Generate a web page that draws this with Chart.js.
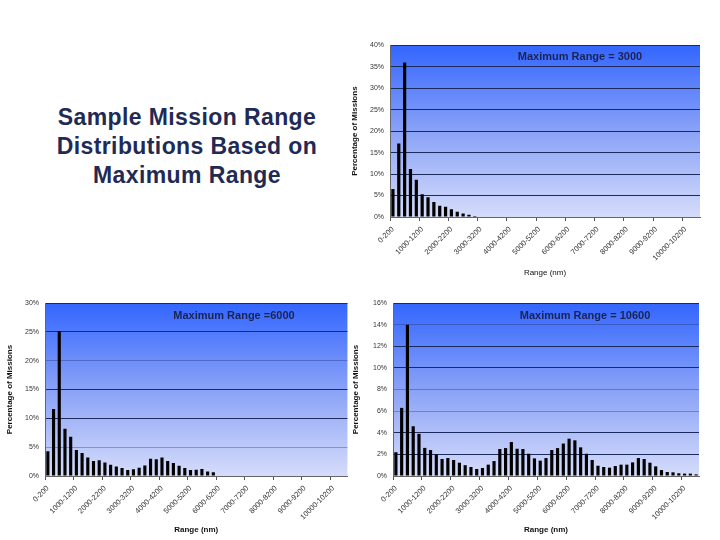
<!DOCTYPE html>
<html>
<head>
<meta charset="utf-8">
<script src="https://cdn.jsdelivr.net/npm/chart.js@4/dist/chart.umd.min.js"></script>
<style>
  html, body { margin: 0; padding: 0; background: #ffffff; }
  #page { position: relative; width: 720px; height: 540px; overflow: hidden; font-family: "Liberation Sans", Arial, sans-serif; }
  .wrap { position: absolute; }
  .note { position: absolute; font-weight: bold; font-size: 11px; color: #1b2350; white-space: nowrap; transform: translate(-50%, -50%); }
  #title { position: absolute; left: 37px; top: 103px; width: 300px; text-align: center; font-weight: bold; font-size: 23px; line-height: 29px; letter-spacing: 0.4px; color: #1f2a55; }
</style>
</head>
<body>
<div id="page">
  <div id="title">Sample Mission Range Distributions Based on Maximum Range</div>
  <div class="wrap" style="left:345px;top:35px;width:365px;height:245px;"><canvas id="c1" width="365" height="245"></canvas></div>
  <div class="wrap" style="left:0px;top:290px;width:355px;height:250px;"><canvas id="c2" width="355" height="250"></canvas></div>
  <div class="wrap" style="left:350px;top:290px;width:370px;height:250px;"><canvas id="c3" width="370" height="250"></canvas></div>
  <div class="note" style="left:580px;top:56px;">Maximum Range = 3000</div>
  <div class="note" style="left:234px;top:315px;">Maximum Range =6000</div>
  <div class="note" style="left:585px;top:315px;">Maximum Range = 10600</div>
</div>
<script>
const categories = ["0-200","200-400","400-600","600-800","800-1000","1000-1200","1200-1400","1400-1600","1600-1800","1800-2000",
  "2000-2200","2200-2400","2400-2600","2600-2800","2800-3000","3000-3200","3200-3400","3400-3600","3600-3800","3800-4000",
  "4000-4200","4200-4400","4400-4600","4600-4800","4800-5000","5000-5200","5200-5400","5400-5600","5600-5800","5800-6000",
  "6000-6200","6200-6400","6400-6600","6600-6800","6800-7000","7000-7200","7200-7400","7400-7600","7600-7800","7800-8000",
  "8000-8200","8200-8400","8400-8600","8600-8800","8800-9000","9000-9200","9200-9400","9400-9600","9600-9800","9800-10000",
  "10000-10200","10200-10400","10400-10600"];

const range3000 = [6.5, 17.1, 36.0, 11.2, 8.7, 5.3, 4.6, 3.5, 2.6, 2.4, 1.8, 1.2, 0.8, 0.5, 0.25];

const range6000 = [4.3, 11.6, 25.1, 8.2, 6.8, 4.5, 4.0, 3.2, 2.6, 2.75, 2.35, 1.95, 1.66, 1.38, 1.03,
  1.15, 1.43, 1.84, 3.0, 2.9, 3.2, 2.6, 2.24, 1.78, 1.38, 1.03, 1.1, 1.2, 0.8, 0.63];

const range10600 = [2.2, 6.3, 14.0, 4.6, 3.9, 2.6, 2.4, 2.0, 1.57, 1.66, 1.48, 1.23, 1.0, 0.83, 0.65,
  0.74, 1.05, 1.38, 2.5, 2.58, 3.14, 2.52, 2.5, 2.06, 1.63, 1.42, 1.66, 2.4, 2.58, 3.0,
  3.45, 3.3, 2.65, 2.06, 1.48, 0.95, 0.83, 0.77, 0.92, 1.05, 1.05, 1.26, 1.66, 1.57, 1.23,
  0.89, 0.55, 0.37, 0.34, 0.25, 0.22, 0.22, 0.15];

const yMax3000 = 40, yStep3000 = 5;
const yMax6000 = 30, yStep6000 = 5;
const yMax10600 = 16, yStep10600 = 2;

const gradientBg = {
  id: 'gradientBg',
  beforeDraw(chart) {
    const { ctx, chartArea: a } = chart;
    const g = ctx.createLinearGradient(0, a.top, 0, a.bottom);
    g.addColorStop(0, '#3366ff');
    g.addColorStop(0.5, '#8aa2f7');
    g.addColorStop(1, '#d5dcfa');
    ctx.save();
    ctx.fillStyle = g;
    ctx.fillRect(a.left, a.top, a.right - a.left, a.bottom - a.top);
    ctx.restore();
  }
};

const NAVY = '#1c2a5c';
const FAINT = 'rgba(28,42,92,0.35)';
const FONT = "'Liberation Sans', Arial, sans-serif";

function makeChart(id, values, yMax, yStep, opt) {
  new Chart(document.getElementById(id), {
    type: 'bar',
    data: {
      labels: categories,
      datasets: [{
        data: values,
        backgroundColor: '#000000',
        borderWidth: 0,
        barPercentage: 0.55,
        categoryPercentage: 1.0
      }]
    },
    options: {
      responsive: false,
      animation: false,
      devicePixelRatio: 1,
      layout: { padding: { top: opt.padTop, right: opt.padRight, left: opt.padLeft, bottom: 0 } },
      plugins: { legend: { display: false }, tooltip: { enabled: false }, title: { display: false } },
      scales: {
        x: {
          type: 'category',
          offset: true,
          afterFit(s) { s.height = opt.xHeight; },
          grid: {
            offset: true,
            drawOnChartArea: false,
            drawTicks: true,
            tickLength: 4,
            color: (c) => (c.index % 5 === 0 ? '#555555' : 'rgba(0,0,0,0)')
          },
          border: { display: true, color: '#666666', width: 1 },
          ticks: {
            autoSkip: false,
            minRotation: 45,
            maxRotation: 45,
            padding: 4,
            color: '#333333',
            font: { family: FONT, size: 7.5 },
            callback: function (v, i) { return i % 5 === 0 ? categories[i] : ''; }
          },
          title: {
            display: true,
            text: 'Range (nm)',
            color: '#111111',
            font: { family: FONT, size: 8, weight: opt.xTitleBold ? 'bold' : 'normal' },
            padding: { top: 0, bottom: opt.xTitleBottom }
          }
        },
        y: {
          min: 0,
          max: yMax,
          afterFit(s) { s.width = opt.yWidth; },
          grid: {
            drawTicks: false,
            color: (c) => {
              if (c.tick.value === 0) return 'rgba(0,0,0,0)';
              if (opt.faint.indexOf(c.tick.value) >= 0) return FAINT;
              return NAVY;
            },
            lineWidth: 1
          },
          border: { display: true, color: '#666666', width: 1 },
          ticks: {
            stepSize: yStep,
            padding: 6,
            color: '#333333',
            font: { family: FONT, size: 7 },
            callback: (v) => v + '%'
          },
          title: {
            display: true,
            text: 'Percentage of Missions',
            color: '#111111',
            font: { family: FONT, size: 8, weight: 'bold' },
            padding: { top: opt.yTitlePad, bottom: 0 }
          }
        }
      }
    },
    plugins: [gradientBg]
  });
}

makeChart('c1', range3000, yMax3000, yStep3000,
  { padTop: 7, padRight: 10, padLeft: 0, xHeight: 63, yWidth: 45, yTitlePad: 5, xTitleBold: false, xTitleBottom: 2, faint: [] });
makeChart('c2', range6000, yMax6000, yStep6000,
  { padTop: 13, padRight: 7, padLeft: 0, xHeight: 64, yWidth: 45, yTitlePad: 5, xTitleBold: true, xTitleBottom: 5, faint: [20, 5] });
makeChart('c3', range10600, yMax10600, yStep10600,
  { padTop: 13, padRight: 21, padLeft: 0, xHeight: 64, yWidth: 43, yTitlePad: 1, xTitleBold: true, xTitleBottom: 5, faint: [14, 8, 6] });
</script>
</body>
</html>
